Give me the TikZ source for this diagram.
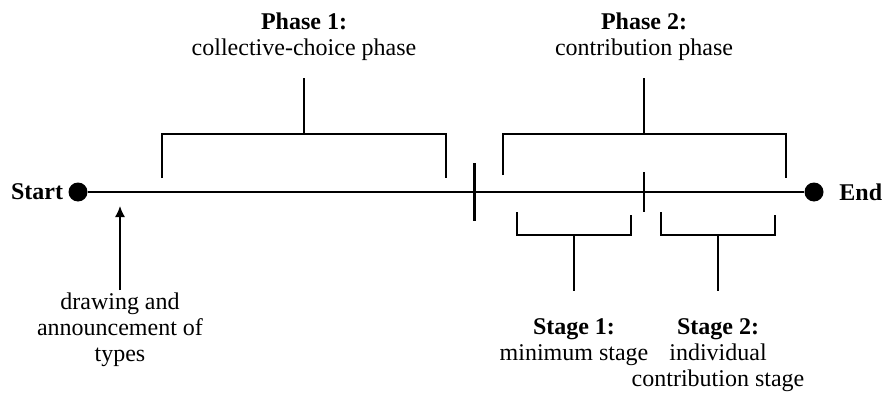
\documentclass[tikz,border=0pt]{standalone}
\usepackage{fontspec}
\setmainfont{Liberation Serif}
\usetikzlibrary{positioning,arrows.meta}
\begin{document}
\begin{tikzpicture}[x=0.5pt, y=-0.5pt,
  dot/.style={circle, fill=black, inner sep=0pt, minimum size=9.5pt},
  txt/.style={align=center, font=\fontsize{12}{13}\selectfont},
  brace/.style={line width=0.75pt},
  scale=1]
\useasboundingbox (0,0) rectangle (885,396);
% time line
\node [dot] (start) at (78,192) {};
\node [dot] (end) at (814,192) {};
\node [txt, left=-1pt of start] (starttxt) {\textbf{Start}};
\node [txt, right=4.25pt of end] (endtxt) {\textbf{End}};
\draw [line width=1pt] (start) -- (end);
% phase 1
\coordinate (ponel) at (162,178);
\coordinate (poner) at (446,178);
\coordinate (ponemid) at (304,134);
\coordinate (ponetop) at (304,78);
\draw [brace] (ponel) |- (ponemid) -| (poner);
\draw [brace] (ponemid) -- (ponetop);
\node [txt, above=5pt of ponetop] (phaseone) {\textbf{Phase 1:}\\collective-choice phase};
% phase 2
\coordinate (ptwol) at (503,175);
\coordinate (ptwor) at (786,178);
\coordinate (ptwomid) at (644,134);
\coordinate (ptwotop) at (644,78);
\draw [brace] (ptwol) |- (ptwomid) -| (ptwor);
\draw [brace] (ptwomid) -- (ptwotop);
\node [txt, above=5pt of ptwotop] (phasetwo) {\textbf{Phase 2:}\\contribution phase};
% ticks on the line
\coordinate (bigtop) at (474,163);
\coordinate (bigbot) at (474,221);
\draw [line width=1.5pt] (bigtop) -- (bigbot);
\coordinate (smalltop) at (644,172);
\coordinate (smallbot) at (644,212);
\draw [line width=0.6pt] (smalltop) -- (smallbot);
% stage 1
\coordinate (sonel) at (517,212);
\coordinate (soner) at (631,215);
\coordinate (sonemid) at (574,235);
\coordinate (sonebot) at (574,291);
\draw [brace] (sonel) |- (sonemid) -| (soner);
\draw [brace] (sonemid) -- (sonebot);
\node [txt, below=10.5pt of sonebot] (stageone) {\textbf{Stage 1:}\\minimum stage};
% stage 2
\coordinate (stwol) at (661,212);
\coordinate (stwor) at (775,215);
\coordinate (stwomid) at (718,235);
\coordinate (stwobot) at (718,291);
\draw [brace] (stwol) |- (stwomid) -| (stwor);
\draw [brace] (stwomid) -- (stwobot);
\node [txt, below=10.5pt of stwobot] (stagetwo) {\textbf{Stage 2:}\\individual\\contribution stage};
% drawing of types
\coordinate (typesbot) at (120,290);
\coordinate (typestip) at (120,206);
\draw [brace, -{Latex[length=5.5pt,width=5pt]}] (typesbot) -- (typestip);
\node [txt, below=-2pt of typesbot] (types) {drawing and\\announcement of\\types};
\end{tikzpicture}
\end{document}
